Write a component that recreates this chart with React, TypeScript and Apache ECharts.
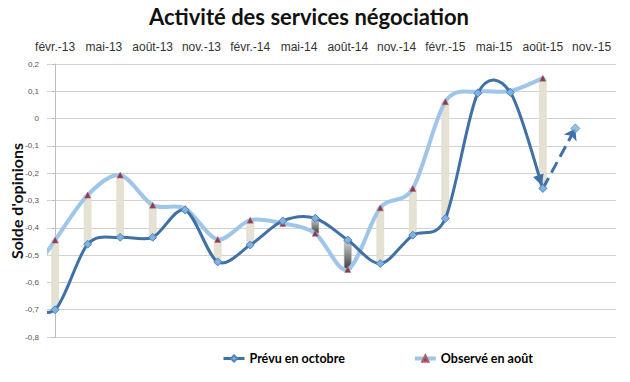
import React, { useEffect, useRef } from "react";
import * as echarts from "echarts";

// Monthly axis labels (top axis), one label every 3 months is displayed
const months = [
  "févr.-13", "mars-13", "avr.-13", "mai-13", "juin-13", "juil.-13", "août-13", "sept.-13", "oct.-13", "nov.-13", "déc.-13",
  "janv.-14", "févr.-14", "mars-14", "avr.-14", "mai-14", "juin-14", "juil.-14", "août-14", "sept.-14", "oct.-14", "nov.-14", "déc.-14",
  "janv.-15", "févr.-15", "mars-15", "avr.-15", "mai-15", "juin-15", "juil.-15", "août-15", "sept.-15", "oct.-15", "nov.-15", "déc.-15",
];

// Survey periods (bimonthly)
const periods = [
  "déc.-12", "févr.-13", "avr.-13", "juin-13", "août-13", "oct.-13", "déc.-13",
  "févr.-14", "avr.-14", "juin-14", "août-14", "oct.-14", "déc.-14",
  "févr.-15", "avr.-15", "juin-15", "août-15",
];

const prevu = [
  -0.67, -0.70, -0.46, -0.435, -0.435, -0.335, -0.525,
  -0.463, -0.375, -0.365, -0.445, -0.531, -0.427,
  -0.366, 0.093, 0.096, -0.256,
];

const observe = [
  -0.62, -0.445, -0.28, -0.207, -0.317, -0.329, -0.443,
  -0.372, -0.384, -0.42, -0.553, -0.327, -0.256,
  0.062, 0.099, 0.101, 0.148,
];

// Forecast extension (dashed)
const forecastPeriods = ["août-15", "oct.-15"];
const forecastValues = [-0.256, -0.036];

const yTicks = { min: -0.8, max: 0.2, interval: 0.1 };
const yAxisTitle = "Solde d'opinions";

const MONTH_NAMES = ["janv.", "févr.", "mars", "avr.", "mai", "juin", "juil.", "août", "sept.", "oct.", "nov.", "déc."];
function pos(label: string): number {
  const i = label.lastIndexOf("-");
  const name = label.slice(0, i);
  const year = parseInt(label.slice(i + 1), 10);
  return (year - 13) * 12 + MONTH_NAMES.indexOf(name) - 1;
}

const DARK = "#3F70A6";
const LIGHT = "#9FC6E9";

// Smooth curve (Catmull-Rom style, like spreadsheet smoothing) drawn through the axes' scales
function curveSeries(name: string, pts: number[][], color: string, width: number, z: number, arrowEnd: boolean) {
  const n = pts.length;
  return {
    type: "custom",
    name,
    xAxisIndex: 0,
    clip: true,
    silent: true,
    z,
    data: pts,
    renderItem: (params: any, api: any) => {
      const i = params.dataIndex;
      if (i >= n - 1) return null;
      const P = (k: number) => api.coord(pts[Math.max(0, Math.min(n - 1, k))]);
      const p0 = P(i - 1), p1 = P(i), p2 = P(i + 1), p3 = P(i + 2);
      const t = 0.155;
      const c1 = [p1[0] + (p2[0] - p0[0]) * t, p1[1] + (p2[1] - p0[1]) * t];
      const c2 = [p2[0] - (p3[0] - p1[0]) * t, p2[1] - (p3[1] - p1[1]) * t];
      const children: any[] = [
        {
          type: "bezierCurve",
          shape: { x1: p1[0], y1: p1[1], x2: p2[0], y2: p2[1], cpx1: c1[0], cpy1: c1[1], cpx2: c2[0], cpy2: c2[1] },
          style: { stroke: color, lineWidth: width, fill: "none", lineCap: "round" },
        },
      ];
      if (arrowEnd && i === n - 2) {
        let dx = p2[0] - c2[0];
        let dy = p2[1] - c2[1];
        const len = Math.sqrt(dx * dx + dy * dy) || 1;
        dx /= len;
        dy /= len;
        const tip = [p2[0] - dx * 3, p2[1] - dy * 3];
        const L = 11, W = 5.5;
        const base = [tip[0] - dx * L, tip[1] - dy * L];
        children.push({
          type: "polygon",
          shape: {
            points: [
              tip,
              [base[0] - dy * W, base[1] + dx * W],
              [base[0] + dy * W, base[1] - dx * W],
            ],
          },
          style: { fill: color },
        });
      }
      return { type: "group", children };
    },
  };
}

export default function App() {
  const ref = useRef<HTMLDivElement>(null);
  useEffect(() => {
    if (!ref.current) return;
    const chart = echarts.init(ref.current, null, { renderer: "svg" });

    const prevData = periods.map((p, i) => [pos(p), prevu[i]]);
    const obsData = periods.map((p, i) => [pos(p), observe[i]]);
    const barData = periods.map((p, i) => [pos(p), prevu[i], observe[i]]);
    const fcData = forecastPeriods.map((p, i) => [pos(p), forecastValues[i]]);

    const downGrad = new echarts.graphic.LinearGradient(0, 0, 0, 1, [
      { offset: 0, color: "#d6d6d6" },
      { offset: 1, color: "#3c3c3c" },
    ]);

    chart.setOption({
      animation: false,
      textStyle: { fontFamily: "Liberation Sans" },
      graphic: [
        {
          type: "text",
          x: 309,
          y: 5,
          style: {
            text: "Activité des services négociation",
            font: "bold 22px Lato",
            fill: "#111",
            textAlign: "center",
          },
        },
        {
          type: "text",
          x: 16,
          y: 201,
          rotation: Math.PI / 2,
          style: {
            text: yAxisTitle,
            font: "bold 16px Lato",
            fill: "#111",
            textAlign: "center",
            textVerticalAlign: "middle",
          },
        },
      ],
      legend: {
        data: [
          { name: "Prévu en octobre", lineStyle: { color: DARK, width: 3, opacity: 1 } },
          { name: "Observé en août", lineStyle: { color: LIGHT, width: 4, opacity: 1 } },
        ],
        left: 217,
        top: 347,
        itemWidth: 21,
        itemHeight: 8,
        itemGap: 68,
        textStyle: { fontFamily: "Lato", fontWeight: "bold", fontSize: 12.5, color: "#000" },
      },
      grid: { left: 47, right: 14, top: 64, bottom: 45, containLabel: false, outerBoundsMode: "none" },
      xAxis: [
        {
          type: "value",
          position: "bottom",
          min: -0.5,
          max: months.length - 0.5,
          show: false,
        },
        {
          type: "category",
          position: "top",
          data: months,
          boundaryGap: true,
          axisLine: { show: false },
          axisTick: { show: false },
          splitLine: { show: false },
          axisLabel: {
            interval: 2,
            margin: 11,
            fontSize: 12,
            color: "#333",
            fontFamily: "Liberation Sans",
          },
        },
      ],
      yAxis: {
        type: "value",
        min: yTicks.min,
        max: yTicks.max,
        interval: yTicks.interval,
        axisLine: { show: true, lineStyle: { color: "#bdbdbd" } },
        axisTick: { show: true, length: 3, lineStyle: { color: "#bdbdbd" } },
        splitLine: { show: true, lineStyle: { color: "#d2d2d2", width: 1 } },
        axisLabel: {
          margin: 8,
          fontSize: 8,
          color: "#555",
          formatter: (v: number) => {
            const r = Math.round(v * 10) / 10;
            if (r === 0) return "0";
            return r.toFixed(1).replace(".", ",");
          },
        },
      },
      series: [
        {
          type: "custom",
          name: "bars",
          xAxisIndex: 0,
          clip: true,
          silent: true,
          z: 1,
          data: barData,
          renderItem: (params: any, api: any) => {
            const x = api.value(0);
            const a = api.value(1);
            const b = api.value(2);
            const p1 = api.coord([x, a]);
            const p2 = api.coord([x, b]);
            const top = Math.min(p1[1], p2[1]);
            const h = Math.max(Math.abs(p1[1] - p2[1]), 1);
            const up = b >= a;
            return {
              type: "rect",
              shape: { x: p1[0] - 3.5, y: top, width: 7, height: h },
              style: {
                fill: up ? "#E6E2D3" : downGrad,
                stroke: up ? "#d9d4c2" : "#9a9a9a",
                lineWidth: 0.5,
              },
            };
          },
        },
        curveSeries("obs-curve", obsData, LIGHT, 4, 2, false),
        curveSeries("prev-curve", prevData, DARK, 3, 3, true),
        {
          type: "line",
          name: "Observé en août",
          xAxisIndex: 0,
          data: obsData,
          z: 4,
          symbol: "triangle",
          symbolSize: 6,
          lineStyle: { color: LIGHT, width: 4, opacity: 0 },
          itemStyle: { color: "#8a3b4c", borderColor: "#b06070", borderWidth: 0.5 },
        },
        {
          type: "line",
          name: "Prévu en octobre",
          xAxisIndex: 0,
          data: prevData,
          z: 4,
          symbol: "diamond",
          symbolSize: 8,
          lineStyle: { color: DARK, width: 3, opacity: 0 },
          itemStyle: { color: "#7FB2E0", borderColor: "#4f86bf", borderWidth: 1 },
        },
        {
          type: "lines",
          name: "fc-arrow",
          coordinateSystem: "cartesian2d",
          xAxisIndex: 0,
          z: 3,
          silent: true,
          symbol: ["none", "arrow"],
          symbolSize: [0, 11],
          lineStyle: { color: DARK, width: 3, type: "dashed", opacity: 1 },
          data: [{ coords: fcData }],
        },
        {
          type: "scatter",
          name: "fc-points",
          xAxisIndex: 0,
          z: 4,
          symbol: "diamond",
          symbolSize: 9,
          data: fcData.slice(1),
          itemStyle: { color: "#7FB2E0", borderColor: "#4f86bf", borderWidth: 1 },
        },
      ],
    });
    return () => chart.dispose();
  }, []);
  return (
    <div
      ref={ref}
      style={{ position: "absolute", left: 0, top: 0, width: 630, height: 382 }}
    />
  );
}
